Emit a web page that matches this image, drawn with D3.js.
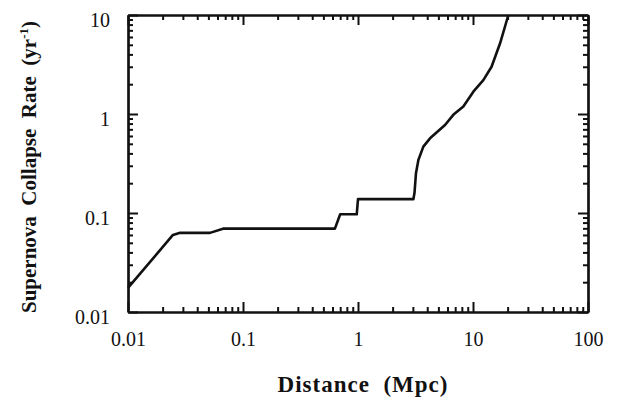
<!DOCTYPE html>
<html>
<head>
<meta charset="utf-8">
<script src="https://cdn.jsdelivr.net/npm/d3@7"></script>
<style>
  body { margin: 0; background: #fff; }
  text { font-family: "Liberation Serif", "DejaVu Serif", serif; fill: #111; }
</style>
</head>
<body>
<svg id="chart" width="621" height="400"></svg>
<script>
// distance (Mpc) vs supernova collapse rate (per yr)
const distance = [0.01, 0.0246, 0.0284, 0.0516, 0.067, 0.63, 0.70, 0.975, 1.0, 3.03,
                  3.1, 3.19, 3.35, 3.70, 4.23, 5.71, 6.74, 8.24, 10.07, 12.3, 14.5, 17.2, 20.3];
const rate = [0.0175, 0.06, 0.063, 0.063, 0.0695, 0.0695, 0.097, 0.097, 0.138, 0.138,
              0.16, 0.25, 0.343, 0.468, 0.568, 0.774, 0.98, 1.19, 1.68, 2.2, 3.0, 5.18, 10];

const xMajor = [0.01, 0.1, 1, 10, 100];
const xLabels = ["0.01", "0.1", "1", "10", "100"];
const yMajor = [0.01, 0.1, 1, 10];
const yLabels = ["0.01", "0.1", "1", "10"];

var svg = d3.select("#chart");

// plot box
const plotLeft = 128, plotRight = 588, plotTop = 15, plotBottom = 312;
const majorLen = 10, minorLen = 5;

var x = d3.scaleLog().domain([0.01, 100]).range([plotLeft, plotRight]);
var y = d3.scaleLog().domain([0.01, 10]).range([plotBottom, plotTop]);

// minor ticks 2..9 of every decade
const minorOf = (majors) => {
    var out = [];
    for (var i = 0; i < majors.length - 1; i++) {
        for (var k = 2; k <= 9; k++) out.push(majors[i] * k);
    }
    return out;
};

const styleAxis = (g) => {
    g.select(".domain").attr("stroke", "#111").attr("stroke-width", 2.2);
    g.selectAll(".tick line").attr("stroke", "#111").attr("stroke-width", 2);
};

const drawAxes = () => {
    var sides = [
        { make: d3.axisBottom, scale: x, majors: xMajor, pos: "translate(0," + plotBottom + ")" },
        { make: d3.axisTop, scale: x, majors: xMajor, pos: "translate(0," + plotTop + ")" },
        { make: d3.axisLeft, scale: y, majors: yMajor, pos: "translate(" + plotLeft + ",0)" },
        { make: d3.axisRight, scale: y, majors: yMajor, pos: "translate(" + plotRight + ",0)" }
    ];
    // ticks point inward on all four sides
    sides.forEach((s) => {
        svg.append("g").attr("transform", s.pos)
            .call(s.make(s.scale).tickValues(minorOf(s.majors)).tickSize(-minorLen).tickSizeOuter(0).tickFormat(""))
            .call(styleAxis);
        svg.append("g").attr("transform", s.pos)
            .call(s.make(s.scale).tickValues(s.majors).tickSize(-majorLen).tickSizeOuter(0).tickFormat(""))
            .call(styleAxis);
    });

    // tick labels
    var bottomLab = svg.append("g").attr("transform", "translate(0," + plotBottom + ")")
        .call(d3.axisBottom(x).tickValues(xMajor).tickSize(0).tickPadding(20)
            .tickFormat((d, i) => xLabels[i]));
    bottomLab.select(".domain").remove();
    bottomLab.selectAll("text").attr("font-size", 20).attr("font-family", "Liberation Serif");

    var leftLab = svg.append("g").attr("transform", "translate(" + plotLeft + ",0)")
        .call(d3.axisLeft(y).tickValues(yMajor).tickSize(0).tickPadding(18)
            .tickFormat((d, i) => yLabels[i]));
    leftLab.select(".domain").remove();
    leftLab.selectAll("text").attr("font-size", 20).attr("font-family", "Liberation Serif").attr("dy", "0.55em");
};

drawAxes();

// the curve
var line = d3.line()
    .x((d) => x(d[0]))
    .y((d) => y(d[1]));

svg.append("path")
    .datum(distance.map((d, i) => [d, rate[i]]))
    .attr("fill", "none")
    .attr("stroke", "#111")
    .attr("stroke-width", 2.6)
    .attr("stroke-linejoin", "round")
    .attr("d", line);

// axis titles
svg.append("text")
    .attr("x", 363).attr("y", 392)
    .attr("text-anchor", "middle")
    .attr("font-size", 23).attr("font-weight", "bold")
    .attr("letter-spacing", 1)
    .attr("xml:space", "preserve")
    .text("Distance  (Mpc)");

var yTitle = svg.append("text")
    .attr("transform", "translate(36,167)rotate(-90)")
    .attr("text-anchor", "middle")
    .attr("font-size", 21).attr("font-weight", "bold")
    .attr("xml:space", "preserve");
yTitle.append("tspan").text("Supernova  Collapse  Rate  (yr");
yTitle.append("tspan").attr("font-size", 13).attr("dy", -8).text("-1");
yTitle.append("tspan").attr("dy", 8).text(")");
</script>
</body>
</html>
